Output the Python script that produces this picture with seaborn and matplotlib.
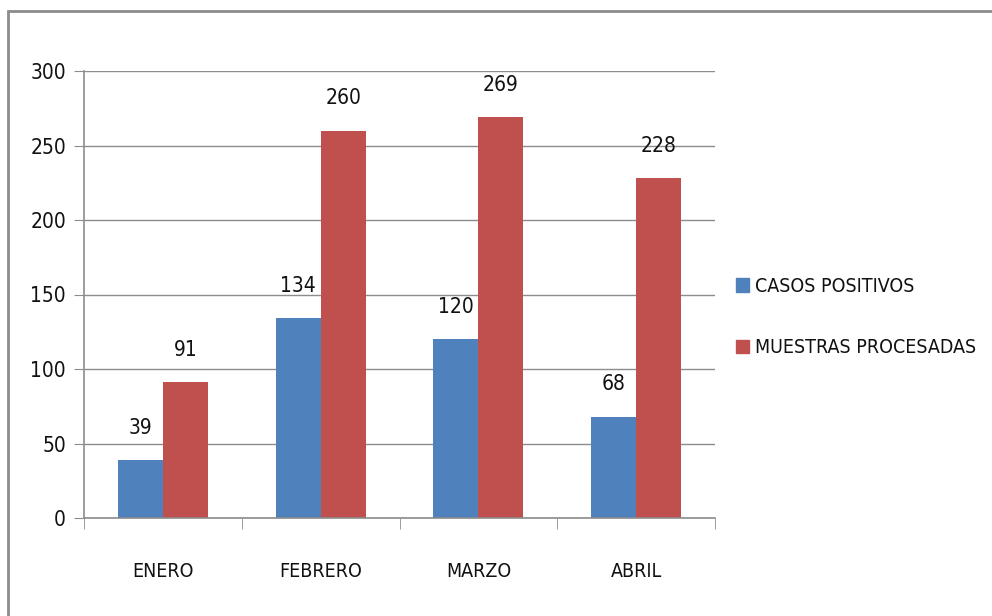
import pandas as pd
import matplotlib.pyplot as plt
import matplotlib.patches as mpatches
import seaborn as sns

# Data
meses = ["ENERO", "FEBRERO", "MARZO", "ABRIL"]
casos_positivos = [39, 134, 120, 68]
muestras_procesadas = [91, 260, 269, 228]
series = ["CASOS POSITIVOS", "MUESTRAS PROCESADAS"]
colores = ["#4F81BD", "#C0504D"]

df = pd.DataFrame({
    "mes": meses * 2,
    "valor": casos_positivos + muestras_procesadas,
    "serie": [series[0]] * 4 + [series[1]] * 4,
})

sns.set_style("white")
plt.rcParams['font.family'] = ['DejaVu Sans']
plt.rcParams['font.stretch'] = 'condensed'
plt.rcParams['text.color'] = '#111111'

fig = plt.figure(figsize=(9.92, 6.16), dpi=100)
ax = fig.add_axes([84 / 992, 1 - 518 / 616, (715 - 84) / 992, (518 - 71) / 616])

sns.barplot(data=df, x="mes", y="valor", hue="serie", palette=colores,
            width=0.57, saturation=1, ax=ax, legend=False, linewidth=0)

# value labels
for cont in ax.containers:
    ax.bar_label(cont, fontsize=15, padding=16, color="#111111")

ax.set_ylim(0, 300)
ax.set_xlim(-0.5, 3.5)
ax.set_yticks(range(0, 301, 50))
ax.yaxis.grid(True, color="#8c8c8c", linewidth=1)
ax.set_axisbelow(True)
ax.set_xlabel("")
ax.set_ylabel("")

for s in ["top", "right"]:
    ax.spines[s].set_visible(False)
for s in ["left", "bottom"]:
    ax.spines[s].set_color("#8c8c8c")
    ax.spines[s].set_linewidth(1.2)

ax.tick_params(axis="y", labelsize=15, length=7, color="#8c8c8c", labelcolor="#111111", left=True, pad=6)
ax.tick_params(axis="x", labelsize=14, length=0, pad=32, labelcolor="#111111")
ax.set_xticks([-0.5, 0.5, 1.5, 2.5, 3.5], minor=True)
ax.tick_params(axis="x", which="minor", length=8, color="#8c8c8c", bottom=True)

# legend
handles = [mpatches.Patch(color=c, label=s) for c, s in zip(colores, series)]
fig.legend(handles=handles, loc="center left", bbox_to_anchor=(718 / 992, 1 - 317 / 616),
           frameon=False, fontsize=14, handlelength=0.7, handleheight=0.7,
           handletextpad=0.3, labelspacing=2.2)

# outer border
fig.patches.append(mpatches.Rectangle((8 / 992, -0.1), 1.1, 1 - 11 / 616 + 0.1,
                                      transform=fig.transFigure, fill=False,
                                      edgecolor="#8c8c8c", linewidth=2))

fig.savefig("out.png", dpi=100)
